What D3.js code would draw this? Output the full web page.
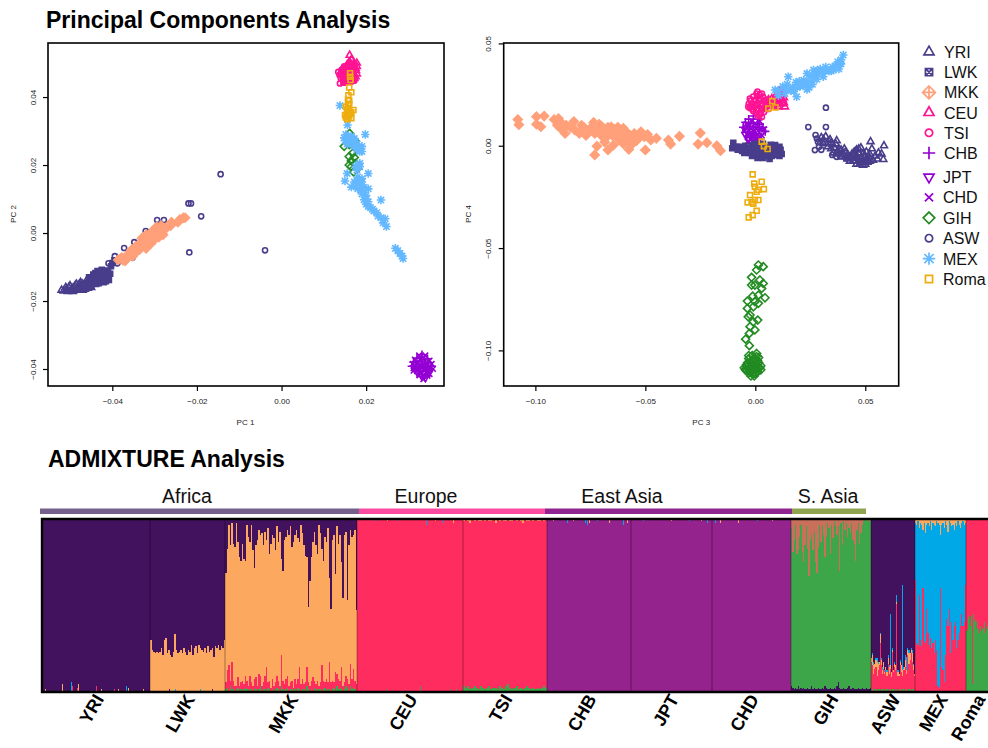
<!DOCTYPE html>
<html>
<head>
<meta charset="utf-8">
<title>PCA and ADMIXTURE</title>
<script src="https://cdn.jsdelivr.net/npm/d3@7"></script>
<style>
  html, body { margin: 0; padding: 0; background: #fff; overflow: hidden; }
  svg { display: block; font-family: "Liberation Sans", Arial, sans-serif; }
  .tick text { font-size: 8px; fill: #222; }
  .tick line { stroke: #000; stroke-width: 1.2; }
  .axis-label { font-size: 8px; fill: #222; text-anchor: middle; }
  .title { font-size: 23px; font-weight: bold; fill: #000; }
</style>
</head>
<body>
<div id="chart"></div>
<script>
// PC1 / PC2 scores
const pc12YRI = [[-.0520,-.0168],[-.0510,-.0160],[-.0505,-.0172],[-.0500,-.0155],[-.0498,-.0168],[-.0490,-.0160],[-.0485,-.0150],[-.0482,-.0165],[-.0475,-.0155],[-.0475,-.0145],[-.0470,-.0168],[-.0468,-.0158],[-.0462,-.0150],[-.0460,-.0138],[-.0458,-.0162],[-.0452,-.0150],[-.0448,-.0142],[-.0515,-.0170],[-.0508,-.0165],[-.0503,-.0160],[-.0495,-.0162],[-.0493,-.0172],[-.0488,-.0155],[-.0487,-.0168],[-.0480,-.0158],[-.0478,-.0150],[-.0472,-.0162],[-.0470,-.0150],[-.0465,-.0165],[-.0463,-.0155],[-.0457,-.0145],[-.0455,-.0155],[-.0450,-.0160],[-.0445,-.0150]];
const pc12LWK = [[-.0460,-.0155],[-.0452,-.0140],[-.0448,-.0150],[-.0445,-.0132],[-.0442,-.0145],[-.0438,-.0125],[-.0435,-.0138],[-.0432,-.0148],[-.0430,-.0120],[-.0428,-.0130],[-.0425,-.0140],[-.0422,-.0118],[-.0420,-.0132],[-.0416,-.0122],[-.0412,-.0135],[-.0410,-.0125],[-.0410,-.0112],[-.0403,-.0098],[-.0400,-.0088],[-.0395,-.0080],[-.0440,-.0118],[-.0435,-.0112],[-.0425,-.0108],[-.0418,-.0110],[-.0415,-.0142],[-.0420,-.0145],[-.0408,-.0138],[-.0405,-.0120],[-.0438,-.0150],[-.0445,-.0122],[-.0455,-.0130],[-.0450,-.0155]];
const pc12MKK = [[-.0386,-.0079],[-.0378,-.0072],[-.0370,-.0082],[-.0362,-.0062],[-.0355,-.0050],[-.0352,-.0068],[-.0345,-.0058],[-.0340,-.0040],[-.0335,-.0048],[-.0328,-.0028],[-.0325,-.0038],[-.0318,-.0018],[-.0312,-.0028],[-.0310,-.0006],[-.0305,-.0015],[-.0300,.0002],[-.0295,-.0005],[-.0292,.0008],[-.0288,-.0001],[-.0284,.0012],[-.0278,.0008],[-.0270,.0018],[-.0262,.0022],[-.0260,.0032],[-.0245,.0032],[-.0240,.0040],[-.0232,.0045],[-.0228,.0045],[-.0330,-.0015],[-.0320,-.0045],[-.0315,-.0008],[-.0308,-.0030],[-.0300,-.0018],[-.0295,.0018],[-.0290,-.0012],[-.0285,.0022],[-.0280,-.0005],[-.0275,.0015],[-.0320,-.0005],[-.0305,.0005],[-.0335,-.0030],[-.0345,-.0040],[-.0355,-.0065],[-.0365,-.0072],[-.0375,-.0080],[-.0300,.0012]];
const pc12ASW = [[-.0144,.0173],[-.0220,.0087],[-.0214,.0087],[-.0190,.0049],[-.0218,-.0057],[-.0039,-.0051],[-.0294,.0038],[-.0278,.0038],[-.0372,-.0044],[-.0394,-.0068],[-.0388,-.0089],[-.0352,-.0072],[-.0348,-.0027],[-.0321,.0006],[-.0409,-.0089]];
const pc12CEU = [[.0161,.0523],[.0158,.0500],[.0165,.0510],[.0172,.0500],[.0178,.0500],[.0150,.0485],[.0160,.0488],[.0170,.0488],[.0176,.0478],[.0148,.0472],[.0158,.0475],[.0168,.0475],[.0172,.0465],[.0155,.0462],[.0165,.0458],[.0172,.0455],[.0155,.0495],[.0163,.0500],[.0170,.0495],[.0178,.0490],[.0155,.0482],[.0165,.0482],[.0175,.0485],[.0153,.0468],[.0163,.0468],[.0170,.0470],[.0178,.0468],[.0160,.0455],[.0150,.0458],[.0168,.0450],[.0175,.0460],[.0148,.0445],[.0158,.0445]];
const pc12TSI = [[.0134,.0474],[.0138,.0440],[.0142,.0480],[.0148,.0490],[.0143,.0462],[.0150,.0465],[.0140,.0455],[.0152,.0450],[.0150,.0478],[.0158,.0455],[.0165,.0445],[.0172,.0448],[.0145,.0450],[.0158,.0495],[.0140,.0470],[.0147,.0472],[.0155,.0470],[.0146,.0485],[.0153,.0490],[.0150,.0458],[.0146,.0442],[.0160,.0465],[.0143,.0480],[.0137,.0465],[.0152,.0443]];
const pc12CHB = [[.0332,-.0358],[.0320,-.0368],[.0345,-.0370],[.0312,-.0380],[.0330,-.0378],[.0348,-.0382],[.0308,-.0392],[.0325,-.0390],[.0340,-.0392],[.0355,-.0392]];
const pc12JPT = [[.0315,-.0400],[.0330,-.0402],[.0345,-.0402],[.0322,-.0412],[.0338,-.0412],[.0350,-.0408],[.0332,-.0422],[.0340,-.0425]];
const pc12CHD = [[.0318,-.0385],[.0335,-.0385],[.0350,-.0395],[.0322,-.0398],[.0338,-.0398],[.0312,-.0405],[.0328,-.0410],[.0345,-.0415],[.0336,-.0368],[.0325,-.0360],[.0340,-.0360],[.0315,-.0372],[.0328,-.0370],[.0338,-.0375],[.0350,-.0375],[.0310,-.0385],[.0322,-.0382],[.0343,-.0385],[.0355,-.0385],[.0315,-.0392],[.0333,-.0392],[.0348,-.0400],[.0358,-.0400],[.0312,-.0398],[.0328,-.0402],[.0338,-.0405],[.0320,-.0405],[.0350,-.0415],[.0325,-.0418],[.0335,-.0418],[.0345,-.0420],[.0335,-.0430]];
const pc12GIH = [[.0161,.0293],[.0175,.0270],[.0148,.0255],[.0160,.0260],[.0178,.0255],[.0168,.0235],[.0160,.0225],[.0172,.0222],[.0165,.0212],[.0160,.0200],[.0175,.0205],[.0165,.0195],[.0180,.0190],[.0170,.0180]];
const pc12MEX = [[.0138,.0375],[.0156,.0318],[.0198,.0290],[.0152,.0290],[.0148,.0280],[.0160,.0275],[.0172,.0278],[.0155,.0262],[.0165,.0262],[.0178,.0262],[.0190,.0255],[.0150,.0272],[.0178,.0245],[.0185,.0240],[.0190,.0240],[.0180,.0200],[.0185,.0195],[.0175,.0195],[.0155,.0175],[.0150,.0153],[.0205,.0175],[.0180,.0165],[.0190,.0160],[.0172,.0150],[.0185,.0145],[.0165,.0135],[.0180,.0130],[.0195,.0135],[.0205,.0130],[.0190,.0115],[.0200,.0110],[.0195,.0098],[.0235,.0097],[.0200,.0085],[.0205,.0078],[.0215,.0070],[.0225,.0060],[.0228,.0050],[.0235,.0045],[.0245,.0042],[.0240,.0030],[.0248,.0019],[.0269,-.0045],[.0275,-.0052],[.0280,-.0060],[.0287,-.0075],[.0285,-.0068],[.0158,.0285],[.0165,.0285],[.0175,.0270],[.0158,.0268],[.0168,.0270],[.0180,.0250],[.0172,.0255],[.0185,.0205],[.0178,.0185],[.0190,.0150],[.0180,.0155],[.0175,.0140],[.0188,.0125],[.0195,.0120],[.0200,.0100],[.0205,.0092],[.0210,.0075],[.0218,.0065]];
const pc12Roma = [[.0162,.0470],[.0162,.0460],[.0163,.0450],[.0160,.0428],[.0165,.0414],[.0158,.0405],[.0157,.0392],[.0160,.0380],[.0158,.0368],[.0170,.0362],[.0155,.0358],[.0162,.0352],[.0150,.0347],[.0158,.0342],[.0165,.0338],[.0155,.0335],[.0155,.0348],[.0152,.0340],[.0160,.0345],[.0165,.0355],[.0155,.0365],[.0152,.0372],[.0160,.0358],[.0158,.0378],[.0160,.0390]];

// PC3 / PC4 scores
const pc34YRI = [[.0524,.0020],[.0585,.0000],[.0574,-.0040],[.0582,-.0067],[.0560,-.0035],[.0530,-.0015],[.0520,-.0060],[.0545,-.0050],[.0500,-.0075],[.0490,-.0040],[.0475,-.0090],[.0465,-.0060],[.0460,-.0020],[.0450,-.0045],[.0480,-.0010],[.0445,-.0075],[.0420,-.0065],[.0410,-.0030],[.0395,-.0055],[.0370,-.0040],[.0520,-.0040],[.0555,-.0065],[.0505,-.0030],[.0535,-.0070],[.0380,-.0015],[.0365,.0010],[.0345,.0015],[.0330,-.0005],[.0310,.0030],[.0295,.0015],[.0370,.0025],[.0345,-.0015],[.0320,.0045],[.0355,-.0035],[.0420,-.0045],[.0430,-.0055],[.0440,-.0040],[.0440,-.0060],[.0450,-.0030],[.0455,-.0075],[.0460,-.0050],[.0470,-.0075],[.0470,-.0035],[.0480,-.0060],[.0480,-.0080],[.0490,-.0075],[.0490,-.0095],[.0500,-.0050],[.0500,-.0090],[.0510,-.0065],[.0510,-.0080],[.0470,-.0015],[.0430,-.0075],[.0460,-.0090],[.0520,-.0075],[.0400,-.0040],[.0390,-.0020],[.0375,-.0025],[.0360,-.0010],[.0340,.0030],[.0330,.0015],[.0310,.0010],[.0300,.0040],[.0350,.0005],[.0405,-.0015]];
const pc34LWK = [[-.0105,-.0012],[-.0100,.0015],[-.0085,-.0005],[-.0070,-.0005],[-.0055,-.0010],[-.0045,.0000],[-.0040,-.0025],[-.0030,-.0015],[-.0025,-.0035],[-.0015,.0000],[-.0010,-.0030],[.0000,-.0045],[.0000,-.0010],[.0010,-.0025],[.0015,.0005],[.0025,-.0015],[.0030,-.0040],[.0040,-.0010],[.0045,-.0030],[.0055,-.0015],[.0065,-.0035],[.0065,-.0065],[.0075,-.0010],[.0085,-.0030],[.0100,-.0010],[.0110,-.0005],[.0115,-.0020],[.0120,-.0040],[.0110,-.0050],[.0090,.0003],[-.0080,-.0020],[-.0060,-.0025],[-.0050,-.0035],[-.0020,-.0015],[-.0015,-.0050],[.0020,-.0045],[.0010,-.0060],[.0035,-.0060],[.0045,-.0050],[.0060,-.0010],[.0075,-.0050],[.0085,-.0045],[-.0005,.0010],[.0035,.0010],[.0070,.0005],[.0100,-.0035]];
const pc34MKK = [[-.1080,.0128],[-.1075,.0103],[-.0995,.0142],[-.0960,.0145],[-.0995,.0105],[-.0975,.0093],[-.0915,.0128],[-.0895,.0133],[-.0900,.0100],[-.0885,.0085],[-.0865,.0060],[-.0825,.0118],[-.0820,.0076],[-.0790,.0100],[-.0760,.0068],[-.0735,.0114],[-.0720,.0076],[-.0690,.0085],[-.0675,.0044],[-.0655,.0092],[-.0630,.0068],[-.0600,.0085],[-.0600,.0036],[-.0570,.0052],[-.0550,.0060],[-.0520,.0068],[-.0505,.0044],[-.0475,.0028],[-.0450,.0036],[-.0395,.0028],[-.0385,.0008],[-.0345,.0046],[-.0250,.0062],[-.0260,.0008],[-.0220,.0015],[-.0175,.0000],[-.0158,-.0024],[-.0720,-.0002],[-.0730,-.0045],[-.0670,-.0021],[-.0645,.0003],[-.0575,-.0018],[-.0500,-.0021],[-.0685,.0018],[-.0560,.0008],[-.0780,.0090],[-.0745,.0090],[-.0700,.0095],[-.0660,.0075],[-.0640,.0080],[-.0610,.0050],[-.0590,.0020],[-.0580,.0060],[-.0530,.0040],[-.0490,.0055],[-.0860,.0100],[-.0880,.0110],[-.0840,.0090],[-.0800,.0060],[-.0770,.0050],[-.0700,.0050],[-.0650,.0050],[-.0620,.0030],[-.0600,.0010],[-.0755,.0078],[-.0710,.0105],[-.0680,.0065],[-.0670,.0090],[-.0640,.0060],[-.0625,.0090],[-.0610,.0075],[-.0570,.0030],[-.0540,.0025],[-.0510,.0055],[-.0870,.0085],[-.0790,.0075],[-.0730,.0060]];
const pc34ASW = [[.0321,.0186],[.0241,.0091],[.0321,.0091],[.0274,.0052],[.0271,-.0021],[.0285,.0020],[.0280,.0035],[.0300,-.0020],[.0370,-.0054],[.0350,-.0045],[.0290,-.0005],[.0410,-.0060],[.0385,-.0050]];
const pc34CEU = [[.0095,.0250],[.0108,.0265],[.0120,.0250],[.0115,.0230],[.0130,.0235],[.0095,.0215],[.0108,.0225],[.0125,.0205],[.0135,.0190],[.0105,.0190],[.0075,.0230],[.0060,.0225],[.0085,.0195],[.0085,.0225],[.0095,.0200],[.0110,.0240],[.0125,.0225],[.0115,.0205],[.0130,.0210],[.0075,.0205],[.0105,.0215],[.0120,.0270],[.0100,.0240]];
const pc34TSI = [[-.0030,.0205],[-.0020,.0220],[-.0010,.0240],[.0005,.0255],[.0020,.0250],[.0035,.0240],[.0050,.0225],[-.0025,.0185],[-.0010,.0170],[.0005,.0160],[.0020,.0150],[.0030,.0140],[.0000,.0205],[.0015,.0225],[.0035,.0200],[.0050,.0190],[.0015,.0180],[.0040,.0165],[.0055,.0205],[-.0005,.0190],[-.0025,.0230],[-.0015,.0205],[.0010,.0240],[.0025,.0230],[.0040,.0215],[.0060,.0215],[-.0020,.0195],[-.0032,.0190],[-.0015,.0180],[.0005,.0175],[.0000,.0225],[.0030,.0175],[.0025,.0205],[.0045,.0180],[.0060,.0180],[.0010,.0195],[.0010,.0145],[.0025,.0160],[.0050,.0205],[.0010,.0265],[.0030,.0255],[.0065,.0195]];
const pc34CHB = [[-.0009,.0145],[-.0030,.0130],[.0010,.0130],[-.0045,.0115],[-.0020,.0110],[.0020,.0105],[-.0055,.0090],[-.0010,.0090],[.0035,.0090],[.0045,.0070]];
const pc34JPT = [[-.0040,.0075],[-.0015,.0070],[.0010,.0070],[.0030,.0065],[-.0045,.0055],[-.0020,.0050],[.0010,.0050],[-.0030,.0035],[-.0005,.0030]];
const pc34CHD = [[-.0030,.0100],[.0000,.0110],[.0025,.0080],[-.0050,.0075],[-.0025,.0060],[.0020,.0045],[-.0010,.0020],[-.0035,.0020],[.0015,.0030],[-.0040,.0105],[-.0015,.0120],[.0005,.0100],[.0020,.0120],[-.0035,.0090],[-.0020,.0085],[.0005,.0085],[.0020,.0085],[.0040,.0080],[-.0045,.0085],[-.0035,.0060],[-.0010,.0060],[.0000,.0060],[.0030,.0050],[-.0030,.0045],[.0000,.0040],[-.0020,.0030],[.0010,.0015],[-.0020,.0010]];
const pc34GIH = [[.0014,-.0583],[.0036,-.0591],[.0006,-.0607],[-.0017,-.0643],[.0021,-.0656],[.0036,-.0673],[-.0017,-.0681],[-.0002,-.0681],[.0029,-.0697],[.0044,-.0743],[.0014,-.0730],[-.0012,-.0735],[-.0036,-.0759],[-.0002,-.0762],[.0014,-.0770],[-.0036,-.0795],[-.0009,-.0787],[-.0024,-.0827],[-.0032,-.0836],[.0011,-.0852],[-.0009,-.0860],[-.0024,-.0884],[-.0002,-.0900],[-.0027,-.0917],[-.0044,-.0945],[-.0027,-.0977],[.0006,-.1015],[-.0014,-.1025],[-.0030,-.1040],[.0000,-.1045],[.0015,-.1035],[-.0020,-.1060],[-.0040,-.1070],[.0005,-.1070],[.0025,-.1075],[-.0050,-.1085],[-.0025,-.1085],[.0000,-.1090],[.0020,-.1085],[-.0040,-.1100],[-.0015,-.1105],[.0010,-.1105],[-.0020,-.1125],[-.0005,-.1125],[-.0030,-.1025],[.0005,-.1030],[-.0015,-.1050],[.0010,-.1050],[-.0035,-.1060],[-.0010,-.1070],[.0015,-.1060],[-.0030,-.1090],[-.0015,-.1075],[.0010,-.1085],[-.0045,-.1095],[-.0030,-.1110],[.0000,-.1115],[.0025,-.1095],[-.0010,-.1090],[-.0040,-.1080],[-.0010,-.1115]];
const pc34MEX = [[.0090,.0272],[.0105,.0245],[.0125,.0290],[.0150,.0337],[.0135,.0255],[.0145,.0300],[.0188,.0239],[.0170,.0285],[.0185,.0310],[.0205,.0290],[.0220,.0320],[.0235,.0353],[.0245,.0285],[.0260,.0300],[.0250,.0340],[.0270,.0350],[.0280,.0325],[.0295,.0375],[.0309,.0337],[.0320,.0385],[.0335,.0365],[.0350,.0385],[.0365,.0390],[.0380,.0375],[.0375,.0410],[.0390,.0420],[.0400,.0443],[.0385,.0400],[.0265,.0370],[.0285,.0350],[.0220,.0295],[.0235,.0275],[.0105,.0270],[.0140,.0280],[.0160,.0270],[.0175,.0265],[.0190,.0285],[.0200,.0315],[.0215,.0300],[.0230,.0310],[.0250,.0310],[.0265,.0330],[.0285,.0365],[.0300,.0360],[.0315,.0365],[.0345,.0365],[.0355,.0370],[.0390,.0400],[.0375,.0390]];
const pc34Roma = [[.0077,.0218],[.0059,.0182],[.0092,.0187],[.0029,.0020],[.0039,-.0002],[.0056,-.0016],[-.0012,-.0140],[.0029,-.0176],[-.0005,-.0185],[-.0002,-.0200],[.0039,-.0212],[.0014,-.0215],[-.0024,-.0241],[.0006,-.0225],[-.0035,-.0277],[-.0002,-.0265],[.0014,-.0265],[.0006,-.0318],[-.0012,-.0339],[-.0030,-.0350],[-.0009,-.0283],[-.0017,-.0275]];

const popNames = ['YRI', 'LWK', 'MKK', 'CEU', 'TSI', 'CHB', 'JPT', 'CHD', 'GIH', 'ASW', 'MEX', 'Roma'];
const popColors = ['#483D8B', '#483D8B', '#FFA07A', '#FF1493', '#FF1493', '#9400D3', '#9400D3', '#9400D3', '#228B22', '#483D8B', '#63B8FF', '#EEAD0E'];
const popShapes = ['tri', 'sqx', 'dmd', 'tri', 'circle', 'plus', 'triDown', 'times', 'diamond', 'circle', 'star', 'square'];
const pc12Series = [pc12YRI, pc12LWK, pc12MKK, pc12CEU, pc12TSI, pc12CHB, pc12JPT, pc12CHD, pc12GIH, pc12ASW, pc12MEX, pc12Roma];
const pc34Series = [pc34YRI, pc34LWK, pc34MKK, pc34CEU, pc34TSI, pc34CHB, pc34JPT, pc34CHD, pc34GIH, pc34ASW, pc34MEX, pc34Roma];
// painted back to front, which is not the legend order
const drawOrder = ['CHB', 'JPT', 'CHD', 'YRI', 'ASW', 'LWK', 'MKK', 'CEU', 'TSI', 'GIH', 'MEX', 'Roma'];

const pc1Ticks = [-0.04, -0.02, 0, 0.02];
const pc2Ticks = [-0.04, -0.02, 0, 0.02, 0.04];
const pc3Ticks = [-0.10, -0.05, 0, 0.05];
const pc4Ticks = [-0.10, -0.05, 0, 0.05];

// ADMIXTURE: sample counts, cluster colours, then per individual percentages
const popSizes = [107, 75, 132, 106, 84, 84, 81, 79, 80, 44, 51, 24];
const clusterColors = { dark: '#43125E', orange: '#FDA85F', red: '#FF2D5F', violet: '#94238E', green: '#3DA648', blue: '#00A8E8', mixed: '#C8705C' };
const regionNames = ['Africa', 'Europe', 'East Asia', 'S. Asia'];
const regionStart = [-3, 316, 502, 749];
const regionEnd = [316, 502, 749, 823];
const regionColors = ['#75608C', '#FB4BA0', '#8F2390', '#8FA350'];

const lwkOrange = [30,24,23,22,23,22,23,25,21,30,31,22,24,21,20,23,33,24,22,23,24,22,25,23,21,24,23,27,21,25,26,22,27,25,24,23,25,22,26,23,24,25,20,26,25,27,24,26,25,30];
const mkkDark = [31,17,3,15,2,14,16,2,13,22,24,14,23,24,3,10,13,3,18,28,15,12,6,9,8,15,7,12,5,20,14,9,11,18,4,13,7,23,30,12,10,6,9,4,16,13,9,6,11,13,3,8,15,21,22,51,36,22,13,7,15,20,3,8,17,24,10,13,5,34,52,12,9,32,4,14,9,25,46,9,7,47,15,6,10,9,6,53];
const mkkRed = [4,10,15,3,16,5,3,2,6,3,4,6,3,7,5,3,8,4,3,5,7,3,9,6,3,4,8,14,3,5,2,6,3,4,7,5,3,18,5,4,6,7,3,4,5,2,6,4,5,13,4,6,3,5,11,4,3,5,8,4,3,6,2,4,15,5,3,7,4,16,5,5,3,11,7,6,5,12,3,4,6,5,4,13,6,11,5,4];
const mkkGreen = [1,2,0,3,1,1,0,1,2,0,1,0,1,2,1,0,1,1,0,2,1,0,1,3,0,1,1,0,2,1,0,1,0,1,2,1,0,3,1,0,1,2,0,1,1,0,1,0,2,1,0,1,1,0,3,1,0,1,0,2,1,0,1,1,0,1,2,0,1,1,0,1,2,0,3,1,1,2,0,1,3,2,0,3,1,2,1,0];
const tsiGreen = [3,2,3,1,2,3,2,1,3,2,1,2,3,1,2,2,1,3,2,1,3,4,2,1,2,3,1,2,1,2,3,2,1,2,1,2,1,2,3,2];
const tsiOrange = [1,0,1,2,0,1,0,1,1,0,1,0,1,1,0,2,0,1,0,1,1,0,1,1,0,1,0,1,2,0,1,1,0,1,0,1,1,0,1,0];
const gihMixed = [5,19,12,3,20,18,10,3,19,25,15,4,17,33,12,9,18,7,25,31,16,3,13,4,9,22,10,2,5,20,3,11,1,4,9,4,30,2,15,1,6,2,10,5,8,2,12,14,24,6,2,14,8,3,1,0,1,0,1,0];
const gihDark = [3,2,1,2,1,3,1,2,1,2,1,1,2,1,1,3,1,2,1,1,2,1,1,2,1,3,2,1,1,2,1,1,2,1,3,5,2,1,1,2,1,1,2,3,1,1,2,1,1,1,2,1,1,2,1,1,2,1,1,2];
const aswGreen = [1,1,0,1,1,0,1,1,0,1,1,1,0,1,1,0,1,1,0,1,1,0,1,1,0,1,1,0,1,1,0,1,1,0,1,1,0,1,1,0];
const aswRed = [16,14,10,12,13,9,11,14,28,14,9,12,10,11,8,16,9,12,8,22,10,14,11,50,9,8,14,11,8,11,12,13,9,21,15,17,22,16,11,9];
const aswOrange = [2,6,5,3,4,8,4,2,5,3,2,4,1,2,2,3,4,2,3,1,1,2,3,1,2,1,2,4,3,1,2,4,2,3,6,4,2,5,3,1];
const aswBlue = [0,1,2,0,1,2,1,0,1,1,2,0,1,0,1,2,1,30,0,1,0,1,0,4,1,0,1,0,50,1,0,3,8,1,2,0,1,2,1,0];
const mexRed = [65,28,27,56,30,26,60,29,28,48,34,27,31,25,28,22,30,24,3,2,60,14,12,5,21,42,38,48,22,40,30,38,40,25,30,34,38,45,38,40,62];
const mexOrange = [2,3,1,5,2,3,6,2,8,3,2,4,1,6,2,3,4,1,2,3,9,3,2,5,1,3,7,1,2,4,3,6,2,4,1,3,5,2,1,3,2];
const romaGreen = [36,35,44,42,38,44,4,45,40,42,37,41,36,34,38,35,37,36,40,34,36,38,37,36];
// sparse spikes: individual, percentage, cluster; a negative percentage hangs from the top
const yriSpikes = [[2,1,'orange'],[19,4,'orange'],[28,5,'blue'],[29,3,'red'],[35,4,'orange'],[34,2,'red'],[53,3,'red'],[58,1,'orange'],[71,1,'red'],[75,1,'orange'],[83,3,'blue'],[85,2,'orange'],[100,1,'orange']];
const lwkSpikes = [[19,1,'dark'],[25,1,'blue'],[50,1,'blue'],[62,1,'dark']];
const ceuSpikes = [[17,-1,'blue'],[30,-1,'orange'],[39,-1,'blue'],[69,-3,'blue'],[78,-1,'orange'],[86,-2,'blue'],[96,-2,'orange'],[30,1,'green'],[63,3,'green'],[93,1,'green'],[99,1,'green']];
const chbSpikes = [[6,-1,'orange'],[20,-2,'blue'],[26,-1,'orange'],[38,-2,'blue'],[40,-3,'blue'],[42,-2,'orange'],[50,-1,'blue'],[62,-2,'orange'],[76,-3,'blue'],[80,-2,'orange']];
const jptSpikes = [[12,-1,'blue'],[40,-1,'orange'],[58,-1,'blue'],[70,-1,'orange'],[76,-2,'blue']];
const chdSpikes = [[3,-2,'blue'],[8,-2,'orange'],[26,-2,'orange'],[45,-1,'blue'],[60,-1,'orange']];

const admixLayers = [
  { base: 'dark', bottom: [], top: [], spikes: yriSpikes },
  { base: 'dark', bottom: [['orange', lwkOrange]], top: [], spikes: lwkSpikes },
  { base: 'orange', bottom: [['green', mkkGreen], ['red', mkkRed]], top: [['dark', mkkDark]], spikes: [] },
  { base: 'red', bottom: [], top: [], spikes: ceuSpikes },
  { base: 'red', bottom: [['green', tsiGreen]], top: [['orange', tsiOrange]], spikes: [] },
  { base: 'violet', bottom: [], top: [], spikes: chbSpikes },
  { base: 'violet', bottom: [], top: [], spikes: jptSpikes },
  { base: 'violet', bottom: [], top: [], spikes: chdSpikes },
  { base: 'green', bottom: [['dark', gihDark]], top: [['mixed', gihMixed]], spikes: [] },
  { base: 'dark', bottom: [['green', aswGreen], ['red', aswRed], ['orange', aswOrange], ['blue', aswBlue]], top: [], spikes: [] },
  { base: 'blue', bottom: [['red', mexRed]], top: [['orange', mexOrange]], spikes: [] },
  { base: 'red', bottom: [['green', romaGreen]], top: [], spikes: [] },
];

const width = 988;
const height = 748;
const svg = d3.select('#chart').append('svg').attr('width', width).attr('height', height);

// stroke-only glyphs in the manner of R's pch symbols
function glyph(name, s) {
  const make = (type, size) => d3.symbol().type(type).size(size)();
  switch (name) {
    case 'tri':
    case 'triDown': return make(d3.symbolTriangle2, s * 1.45);
    case 'circle': return make(d3.symbolCircle, s * 0.85);
    case 'square': return make(d3.symbolSquare2, s * 1.3);
    case 'diamond': return make(d3.symbolDiamond2, s * 1.7);
    case 'plus': return make(d3.symbolPlus, s * 1.05);
    case 'times': return make(d3.symbolTimes, s * 0.9);
    case 'star': return make(d3.symbolPlus, s * 1.05) + make(d3.symbolTimes, s * 1.15);
    case 'sqx': return make(d3.symbolSquare2, s * 1.3) + make(d3.symbolTimes, s * 0.5);
    case 'dmd': return make(d3.symbolDiamond2, s * 2.1) + make(d3.symbolPlus, s * 0.9);
  }
}

function drawPanel(box, xDomain, yDomain, xTicks, yTicks, series, xName, yName) {
  const x = d3.scaleLinear().domain(xDomain).range([box.left, box.right]);
  const y = d3.scaleLinear().domain(yDomain).range([box.bottom, box.top]);

  svg.append('g')
    .attr('transform', `translate(0, ${box.bottom})`)
    .call(d3.axisBottom(x).tickValues(xTicks).tickSize(5).tickPadding(7).tickFormat(d3.format('.2f')))
    .call(g => g.select('.domain').remove());

  svg.append('g')
    .attr('transform', `translate(${box.left}, 0)`)
    .call(d3.axisLeft(y).tickValues(yTicks).tickSize(5).tickFormat(d3.format('.2f')))
    .call(g => g.select('.domain').remove())
    .call(g => g.selectAll('text')
      .attr('text-anchor', 'middle')
      .attr('x', 0).attr('y', 0).attr('dy', 0)
      .attr('transform', `translate(${box.tickLabelX}, 0) rotate(-90)`));

  drawOrder.forEach((name) => {
    const i = popNames.indexOf(name);
    // the square-cross and diamond-plus glyphs close up at this size
    const solid = popShapes[i] === 'sqx' || popShapes[i] === 'dmd';
    svg.append('g')
      .attr('class', 'pop-' + name)
      .selectAll('path')
      .data(series[i])
      .join('path')
      .attr('d', glyph(popShapes[i], 24))
      .attr('transform', (d) => `translate(${x(d[0])}, ${y(d[1])})` + (popShapes[i] === 'triDown' ? ' rotate(180)' : ''))
      .attr('fill', solid ? popColors[i] : 'none')
      .attr('stroke', popColors[i])
      .attr('stroke-width', 1.6);
  });

  svg.append('rect')
    .attr('x', box.left).attr('y', box.top)
    .attr('width', box.right - box.left).attr('height', box.bottom - box.top)
    .attr('fill', 'none').attr('stroke', '#000').attr('stroke-width', 1.6);

  svg.append('text').attr('class', 'axis-label')
    .attr('x', (box.left + box.right) / 2 + box.xLabelShift).attr('y', 424.5).text(xName);
  svg.append('text').attr('class', 'axis-label')
    .attr('transform', `translate(${box.yLabelX}, 214) rotate(-90)`).text(yName);
}

drawPanel({ left: 48, right: 444, top: 43, bottom: 386, tickLabelX: -12, yLabelX: 16, xLabelShift: -0.5 },
  [-0.0552, 0.0384], [-0.0450, 0.0559], pc1Ticks, pc2Ticks, pc12Series, 'PC 1', 'PC 2');
drawPanel({ left: 503.7, right: 898.7, top: 43, bottom: 386, tickLabelX: -12.5, yLabelX: 471, xLabelShift: 0 },
  [-0.1144, 0.0652], [-0.1174, 0.0502], pc3Ticks, pc4Ticks, pc34Series, 'PC 3', 'PC 4');

svg.append('text').attr('class', 'title').attr('x', 46).attr('y', 28).text('Principal Components Analysis');
svg.append('text').attr('class', 'title').attr('x', 48).attr('y', 467).text('ADMIXTURE Analysis');

// legend rows sit in two slightly different runs, as in the source figure
const legendY = d3.scalePoint().domain(popNames.slice(0, 6)).range([52, 153]);
const legendY2 = d3.scalePoint().domain(popNames.slice(6)).range([177, 279]);
const legend = svg.append('g').selectAll('g')
  .data(popNames)
  .join('g')
  .attr('transform', (d, i) => `translate(929, ${i < 6 ? legendY(d) : legendY2(d)})`);
legend.append('path')
  .attr('d', (d, i) => glyph(popShapes[i], 50))
  .attr('transform', (d, i) => popShapes[i] === 'triDown' ? 'rotate(180)' : null)
  .attr('fill', 'none')
  .attr('stroke', (d, i) => popColors[i])
  .attr('stroke-width', 1.7);
legend.append('text')
  .attr('x', (d, i) => i < 6 ? 15 : 14)
  .attr('y', 6)
  .attr('font-size', 16)
  .attr('fill', '#111')
  .text((d) => d);

// ADMIXTURE bars
const popEdges = d3.cumsum(popSizes);
const popStart = (i) => (i === 0 ? 0 : popEdges[i - 1]);
const xAdmix = d3.scaleLinear().domain([0, d3.sum(popSizes)]).range([43, 43 + d3.sum(popSizes)]);
const yAdmix = d3.scaleLinear().domain([0, 100]).range([691, 519.5]);

const admixRects = [];
admixLayers.forEach((pop, i) => {
  const start = popStart(i);
  admixRects.push({ x0: start, x1: start + popSizes[i], y0: 0, y1: 100, cluster: pop.base });
  pop.bottom.concat(pop.top).forEach(([cluster, values]) => {
    const isTop = pop.top.some((t) => t[1] === values);
    const step = popSizes[i] / values.length;
    values.forEach((v, k) => {
      // bottom layers stack on whatever sits below them
      let below = 0;
      if (!isTop) {
        for (const [, other] of pop.bottom) {
          if (other === values) break;
          below += other[k];
        }
      }
      admixRects.push({
        x0: start + k * step, x1: start + (k + 1) * step,
        y0: isTop ? 100 - v : below, y1: isTop ? 100 : below + v, cluster,
      });
    });
  });
  pop.spikes.forEach(([k, v, cluster]) => {
    admixRects.push({
      x0: start + k, x1: start + k + 1,
      y0: v < 0 ? 100 + v : 0, y1: v < 0 ? 100 : v, cluster,
    });
  });
});

// crisp rects leave no seams, the slight blur blends the one pixel spikes
svg.append('g')
  .style('filter', 'blur(0.5px)')
  .selectAll('rect')
  .data(admixRects)
  .join('rect')
  .attr('shape-rendering', 'crispEdges')
  .attr('x', (d) => xAdmix(d.x0))
  .attr('width', (d) => xAdmix(d.x1) - xAdmix(d.x0))
  .attr('y', (d) => yAdmix(d.y1))
  .attr('height', (d) => yAdmix(d.y0) - yAdmix(d.y1))
  .attr('fill', (d) => clusterColors[d.cluster]);

// thin separators between populations
svg.append('g').selectAll('line')
  .data(popEdges.slice(0, -1))
  .join('line')
  .attr('x1', (d) => xAdmix(d)).attr('x2', (d) => xAdmix(d))
  .attr('y1', yAdmix(100)).attr('y2', yAdmix(0))
  .attr('stroke', '#000').attr('stroke-opacity', 0.35).attr('stroke-width', 1);

// frame, open on the clipped right side
svg.append('path')
  .attr('d', d3.line()([[988, 519], [42, 519], [42, 692], [988, 692]]))
  .attr('fill', 'none').attr('stroke', '#000').attr('stroke-width', 2.4);

// region bands and their names
svg.append('g').selectAll('rect')
  .data(regionNames)
  .join('rect')
  .attr('x', (d, i) => xAdmix(regionStart[i]))
  .attr('width', (d, i) => xAdmix(regionEnd[i]) - xAdmix(regionStart[i]))
  .attr('y', 508.5).attr('height', 5.5)
  .attr('fill', (d, i) => regionColors[i]);

const regionLabelX = [187, 426, 622, 828];
svg.append('g').selectAll('text')
  .data(regionNames)
  .join('text')
  .attr('x', (d, i) => regionLabelX[i])
  .attr('y', 503)
  .attr('text-anchor', 'middle')
  .attr('font-size', 19.5)
  .attr('fill', '#111')
  .text((d) => d);

// population names under the bars
svg.append('g').selectAll('text')
  .data(popNames)
  .join('text')
  .attr('text-anchor', 'end')
  .attr('font-size', 18)
  .attr('font-weight', 'bold')
  .attr('fill', '#000')
  .attr('transform', (d, i) => `translate(${xAdmix(popStart(i) + popSizes[i] / 2) + 8}, 699) rotate(-60)`)
  .text((d) => d);
</script>
</body>
</html>
